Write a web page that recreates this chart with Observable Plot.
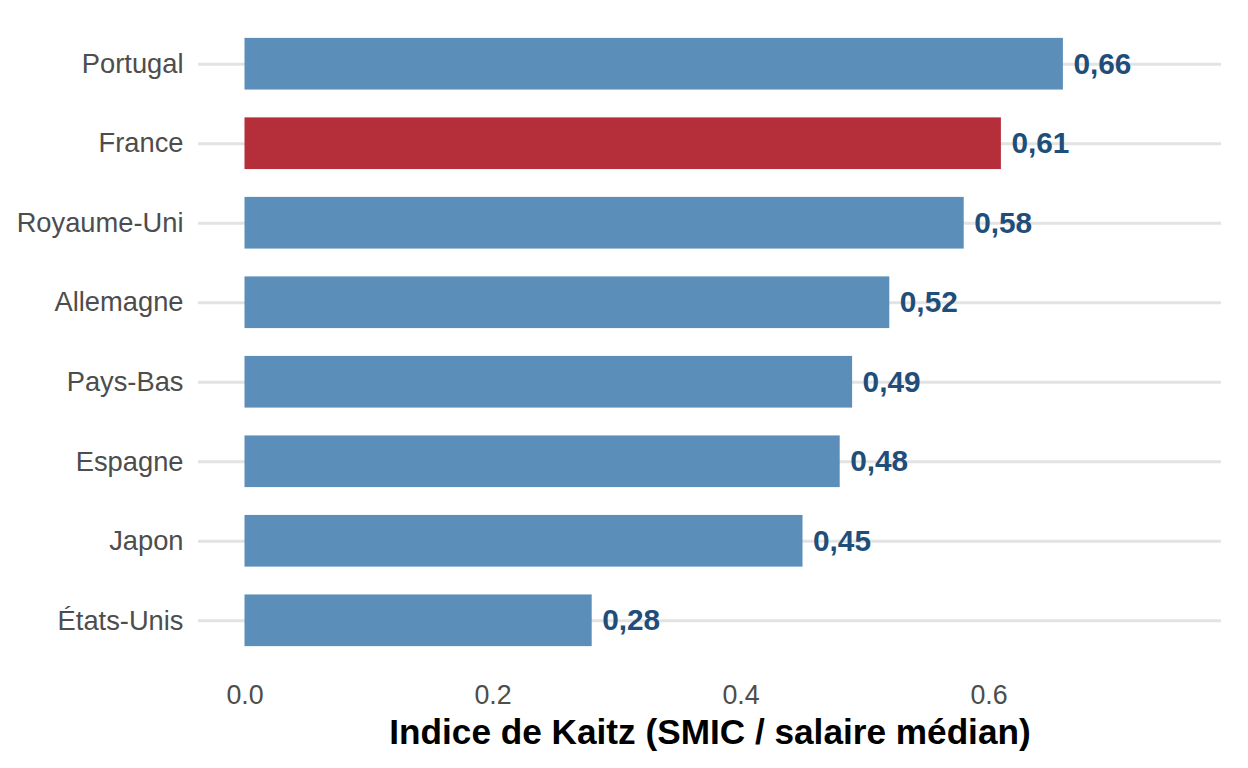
<!DOCTYPE html>
<html>
<head>
<meta charset="utf-8">
<script src="https://cdn.jsdelivr.net/npm/d3@7"></script>
<script src="https://cdn.jsdelivr.net/npm/@observablehq/plot@0.6"></script>
<style>
  html, body { margin: 0; padding: 0; background: #fff; }
  #chart svg { display: block; }
</style>
</head>
<body>
<div id="chart"></div>
<script>
const countries = ["Portugal", "France", "Royaume-Uni", "Allemagne", "Pays-Bas", "Espagne", "Japon", "États-Unis"];
const values = [0.66, 0.61, 0.58, 0.52, 0.49, 0.48, 0.45, 0.28];
const highlight = ["France"];
const xTicks = [0, 0.2, 0.4, 0.6];
const xTickLabels = ["0.0", "0.2", "0.4", "0.6"];
const axisTitle = "Indice de Kaitz (SMIC / salaire médian)";

const data = countries.map((c, i) => ({
  country: c,
  value: values[i],
  label: values[i].toFixed(2).replace(".", ","),
  hl: highlight.includes(c)
}));

const font = "'Liberation Sans', Arial, Helvetica, sans-serif";

const chart = Plot.plot({
  width: 1248,
  height: 768,
  marginLeft: 198,
  marginRight: 27,
  marginTop: 16,
  marginBottom: 100,
  style: { fontFamily: font, background: "#fff" },
  x: { domain: [-0.0375, 0.7875] },
  y: { domain: countries, paddingInner: 0.35, paddingOuter: 0.275, align: 0.5, round: false },
  marks: [
    Plot.ruleY(countries, { y: d => d, stroke: "#e3e3e3", strokeWidth: 3 }),
    Plot.barX(data, {
      y: "country",
      x1: 0,
      x2: "value",
      fill: d => d.hl ? "#b52f3b" : "#5b8eb9"
    }),
    Plot.text(data, {
      y: "country",
      x: "value",
      text: "label",
      textAnchor: "start",
      dx: 10,
      fill: "#1e4e79",
      fontWeight: "bold",
      fontSize: 29.8
    }),
    Plot.axisY({
      tickSize: 0,
      tickPadding: 15,
      fontSize: 27.3,
      color: "#4d4d4d",
      label: null
    }),
    Plot.axisX({
      ticks: xTicks,
      tickFormat: (d) => xTickLabels[xTicks.indexOf(d)],
      tickSize: 0,
      tickPadding: 16,
      fontSize: 26.8,
      color: "#4d4d4d",
      label: null
    }),
    Plot.text([axisTitle], {
      frameAnchor: "bottom",
      text: d => d,
      dy: 64,
      lineAnchor: "middle",
      fontWeight: "bold",
      fontSize: 35.2,
      fill: "#000"
    })
  ]
});
document.getElementById("chart").append(chart);
</script>
</body>
</html>
